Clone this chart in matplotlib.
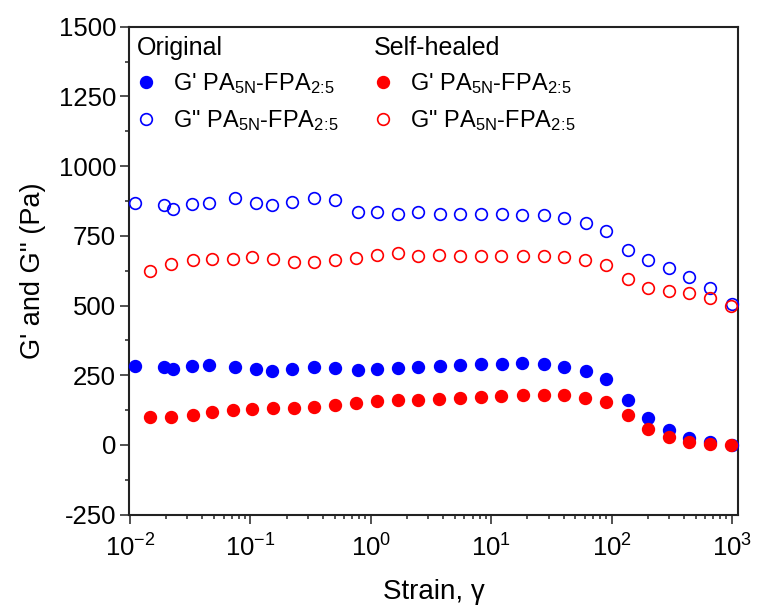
import matplotlib
matplotlib.use("Agg")
import matplotlib.pyplot as plt
from matplotlib.ticker import MultipleLocator, LogLocator, LogFormatterMathtext, NullFormatter

plt.rcParams['font.family'] = ['Liberation Sans', 'DejaVu Sans']
plt.rcParams['mathtext.fontset'] = 'custom'
plt.rcParams['mathtext.rm'] = 'Liberation Sans'
plt.rcParams['mathtext.it'] = 'Liberation Sans:italic'
plt.rcParams['mathtext.bf'] = 'Liberation Sans:bold'
plt.rcParams['axes.unicode_minus'] = False

# Original sample
strain_orig = [0.0111, 0.0191, 0.0227, 0.0327, 0.0456, 0.0739, 0.112, 0.150, 0.223, 0.335,
               0.500, 0.776, 1.12, 1.67, 2.48, 3.73, 5.50, 8.28, 12.2, 18.0,
               27.2, 40.5, 61.6, 90.3, 138, 202, 297, 442, 661, 998]
gp_orig = [285, 278, 274, 282, 286, 281, 271, 266, 271, 278,
           277, 269, 274, 275, 280, 282, 286, 289, 292, 293,
           289, 281, 264, 235, 160, 98, 52, 25, 9, 1]
gpp_orig = [868, 860, 846, 864, 868, 884, 868, 859, 873, 886,
            877, 837, 837, 828, 834, 830, 830, 829, 828, 825,
            823, 814, 796, 767, 699, 662, 635, 603, 562, 505]

# Self-healed sample
strain_heal = [0.0146, 0.0219, 0.0336, 0.0483, 0.0711, 0.104, 0.155, 0.232, 0.337, 0.505,
               0.751, 1.12, 1.68, 2.48, 3.66, 5.50, 8.17, 12.1, 18.5, 27.2,
               40.5, 60.5, 90.3, 138, 202, 297, 442, 655, 986]
gp_heal = [101, 100, 109, 120, 124, 130, 131, 134, 138, 144,
           149, 156, 161, 163, 166, 169, 171, 175, 178, 179,
           178, 169, 154, 109, 59, 29, 11, 4, 0]
gpp_heal = [624, 650, 662, 668, 667, 673, 667, 657, 657, 663,
            670, 680, 687, 679, 680, 679, 679, 678, 676, 676,
            674, 664, 645, 596, 564, 553, 546, 526, 499]

label_gp = r"G' PA$_{\mathrm{5N}}$-FPA$_{\mathrm{2}\!:\!\mathrm{5}}$"
label_gpp = r'G" PA$_{\mathrm{5N}}$-FPA$_{\mathrm{2}\!:\!\mathrm{5}}$'

fig = plt.figure(figsize=(7.58, 6.08), dpi=100)
ax = fig.add_axes([129.3/758, 1-514.7/608, (738.3-129.3)/758, (514.7-26.7)/608])

ms = 8.4
mew = 1.2
h1, = ax.plot(strain_orig, gp_orig, 'o', color='#0000ff', ms=ms, mec='#0000ff', mew=mew, label=label_gp, clip_on=False, zorder=3)
h2, = ax.plot(strain_orig, gpp_orig, 'o', color='#0000ff', ms=ms, mfc='none', mec='#0000ff', mew=mew, label=label_gpp, clip_on=False, zorder=3)
h3, = ax.plot(strain_heal, gp_heal, 'o', color='#ff0000', ms=ms, mec='#ff0000', mew=mew, label=label_gp, clip_on=False, zorder=4)
h4, = ax.plot(strain_heal, gpp_heal, 'o', color='#ff0000', ms=ms, mfc='none', mec='#ff0000', mew=mew, label=label_gpp, clip_on=False, zorder=4)

ax.set_xscale('log')
ax.set_xlim(0.00987, 1128)
ax.set_ylim(-250, 1500)
ax.yaxis.set_major_locator(MultipleLocator(250))
ax.yaxis.set_minor_locator(MultipleLocator(125))
ax.xaxis.set_major_locator(LogLocator(base=10, numticks=20))
ax.xaxis.set_minor_locator(LogLocator(base=10, subs=range(2, 10), numticks=100))
ax.xaxis.set_major_formatter(LogFormatterMathtext())
ax.xaxis.set_minor_formatter(NullFormatter())

for s in ax.spines.values():
    s.set_linewidth(1.5)
    s.set_color('#222222')
ax.tick_params(which='major', direction='out', length=6.5, width=1.1, labelsize=18.5, color='#222222', pad=3)
ax.tick_params(which='minor', direction='out', length=3, width=1.1, color='#222222')
ax.tick_params(axis='x', which='major', pad=8)

ax.set_xlabel('Strain, γ', fontsize=20, labelpad=12)
ax.set_ylabel("G' and G'' (Pa)", fontsize=19.5, labelpad=9)

leg_kw = dict(frameon=False, fontsize=17, title_fontsize=18, alignment='left',
              handlelength=0.8, handletextpad=0.75, labelspacing=0.5, borderpad=0.2,
              borderaxespad=0.0, loc='upper left')
leg1 = ax.legend([h1, h2], [label_gp, label_gpp], title='Original',
                 bbox_to_anchor=((132-129.3)/609, 1-(31-26.7)/488), **leg_kw)
ax.add_artist(leg1)
leg2 = ax.legend([h3, h4], [label_gp, label_gpp], title='Self-healed',
                 bbox_to_anchor=((369-129.3)/609, 1-(31-26.7)/488), **leg_kw)

fig.savefig('out.png', dpi=100)
